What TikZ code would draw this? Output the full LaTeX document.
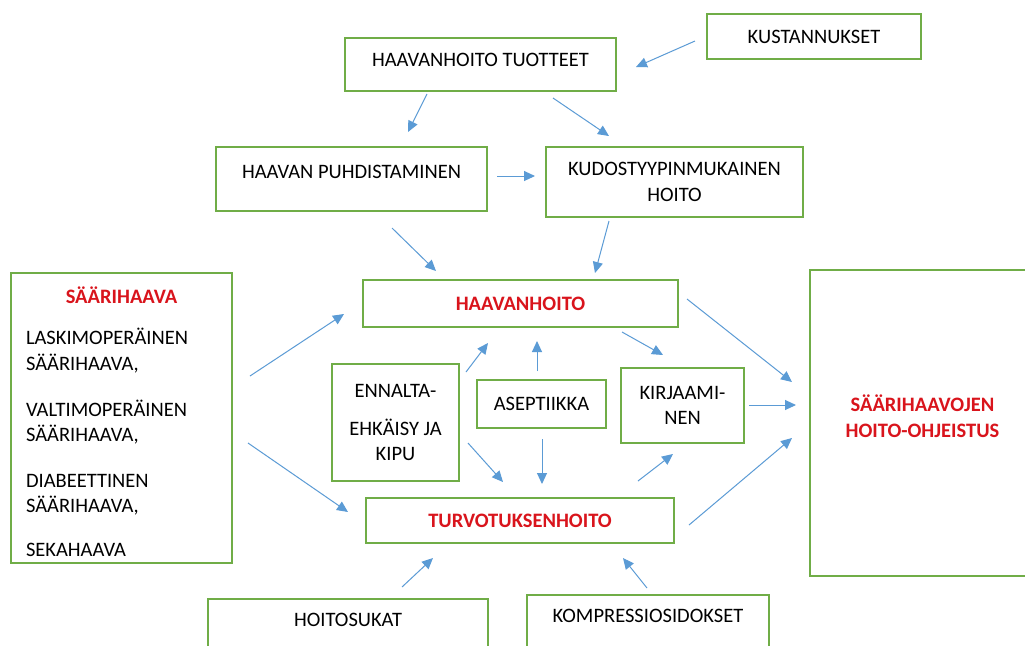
\documentclass[tikz,border=0pt]{standalone}
\usepackage{fontspec}
\setmainfont{Carlito}
\usetikzlibrary{arrows.meta}

\definecolor{vihrea}{HTML}{70AD47}
\definecolor{sininen}{HTML}{5B9BD5}
\definecolor{punainen}{RGB}{217,20,28}
\newcommand{\otsikko}[1]{{\color{punainen}\bfseries #1}}

\tikzset{
    laatikko/.style={draw=vihrea, line width=1pt, fill=white, inner sep=0pt, align=center},
    nosta/.style={text height=8pt, text depth=#1},
    nuoli/.style={draw=sininen, line width=0.5pt, -{Triangle[length=5.5pt,width=5pt]}}
}

\begin{document}
\begin{tikzpicture}[x=0.5pt, y=-0.5pt, font=\fontsize{10.25}{12.8}\selectfont]
        % Background and size of the picture
        \fill[white] (0,0) rectangle (1025,645);
        \useasboundingbox (0,0) rectangle (1025,645);

        % Draw boxes
        \node[laatikko, minimum width=107pt, minimum height=22.5pt] (kust) at (814,36.5) {KUSTANNUKSET};
        \node[laatikko, minimum width=135.5pt, minimum height=26.5pt, nosta=5.9pt] (tuot) at (480.5,64.5) {HAAVANHOITO TUOTTEET};
        \node[laatikko, minimum width=135.5pt, minimum height=32pt, nosta=8.4pt] (puhd) at (351.5,179) {HAAVAN PUHDISTAMINEN};
        \node[laatikko, minimum width=128.5pt, minimum height=35pt] (kudos) at (674.5,182) {KUDOSTYYPINMUKAINEN\\HOITO};
        \node[laatikko, minimum width=157.5pt, minimum height=23.5pt] (haav) at (520.5,303.5) {\otsikko{HAAVANHOITO}};
        \node[laatikko, minimum height=145pt, inner xsep=7.5pt, text width=95.5pt, align=left] (saari) at (121.5,418) {
            \rule{0pt}{12pt}\makebox[\linewidth]{\otsikko{SÄÄRIHAAVA}}\\[8pt]
            LASKIMOPERÄINEN\\SÄÄRIHAAVA,\\[10pt]
            VALTIMOPERÄINEN\\SÄÄRIHAAVA,\\[10pt]
            DIABEETTINEN\\SÄÄRIHAAVA,\\[9pt]
            SEKAHAAVA};
        \node[laatikko, minimum width=63.5pt, minimum height=58.5pt] (enn) at (395.5,422.5) {ENNALTA-\\[6pt]EHKÄISY JA\\KIPU};
        \node[laatikko, minimum width=64.5pt, minimum height=24pt] (asep) at (541.5,404) {ASEPTIIKKA};
        \node[laatikko, minimum width=61.5pt, minimum height=37.5pt] (kirj) at (682.5,405.5) {KIRJAAMI-\\NEN};
        \node[laatikko, minimum width=154pt, minimum height=22.5pt] (turvo) at (520,520.5) {\otsikko{TURVOTUKSENHOITO}};
        \node[laatikko, minimum width=112.5pt, minimum height=153pt] (oikea) at (922.5,423) {\otsikko{SÄÄRIHAAVOJEN}\\\otsikko{HOITO-OHJEISTUS}\\[-5.8pt]\mbox{}};
        \node[laatikko, minimum width=140pt, minimum height=33pt, nosta=13.4pt] (sukat) at (348,632) {HOITOSUKAT};
        \node[laatikko, minimum width=121pt, minimum height=35pt, nosta=15.4pt] (kompr) at (648,630) {KOMPRESSIOSIDOKSET};

        % Draw arrows between the boxes
        \draw[nuoli] ([shift={(-11,4.5)}]kust.west) -- ([shift={(19,2.5)}]tuot.east);
        \draw[nuoli] ([shift={(-53.5,2)}]tuot.south) -- ([shift={(56.5,-14)}]puhd.north);
        \draw[nuoli] ([shift={(72.5,6)}]tuot.south) -- ([shift={(-65.5,-10)}]kudos.north);
        \draw[nuoli] ([shift={(9,-3)}]puhd.east) -- ([shift={(-10,-6)}]kudos.west);
        \draw[nuoli] ([shift={(40.5,16)}]puhd.south) -- ([shift={(-84.5,-8)}]haav.north);
        \draw[nuoli] ([shift={(-65.5,3)}]kudos.south) -- ([shift={(74.5,-6)}]haav.north);
        \draw[nuoli] ([shift={(17,-42)}]saari.east) -- ([shift={(-18,10.5)}]haav.west);
        \draw[nuoli] ([shift={(15,25)}]saari.east) -- ([shift={(-17,-8.5)}]turvo.west);
        \draw[nuoli] ([shift={(8,-4.5)}]haav.east) -- ([shift={(-17,-41)}]oikea.west);
        \draw[nuoli] ([shift={(101.5,4)}]haav.south) -- ([shift={(-19.5,-12)}]kirj.north);
        \draw[nuoli] ([shift={(4,-0.5)}]kirj.east) -- ([shift={(-13,-18)}]oikea.west);
        \draw[nuoli] ([shift={(118,-16)}]turvo.north) -- ([shift={(-9.5,10)}]kirj.south);
        \draw[nuoli] ([shift={(14,4.5)}]turvo.east) -- ([shift={(-17,15)}]oikea.west);
        \draw[nuoli] ([shift={(6,9)}]enn.north east) -- ([shift={(-32.5,15)}]haav.south);
        \draw[nuoli] ([shift={(8,20.5)}]enn.east) -- ([shift={(-17,-15)}]turvo.north);
        \draw[nuoli] ([shift={(-4.5,-8)}]asep.north) -- ([shift={(16.5,13)}]haav.south);
        \draw[nuoli] ([shift={(0.5,10)}]asep.south) -- ([shift={(22,-13)}]turvo.north);
        \draw[nuoli] ([shift={(54,-11)}]sukat.north) -- ([shift={(-87,14)}]turvo.south);
        \draw[nuoli] ([shift={(-1,-6)}]kompr.north) -- ([shift={(103,14)}]turvo.south);

\end{tikzpicture}
\end{document}
